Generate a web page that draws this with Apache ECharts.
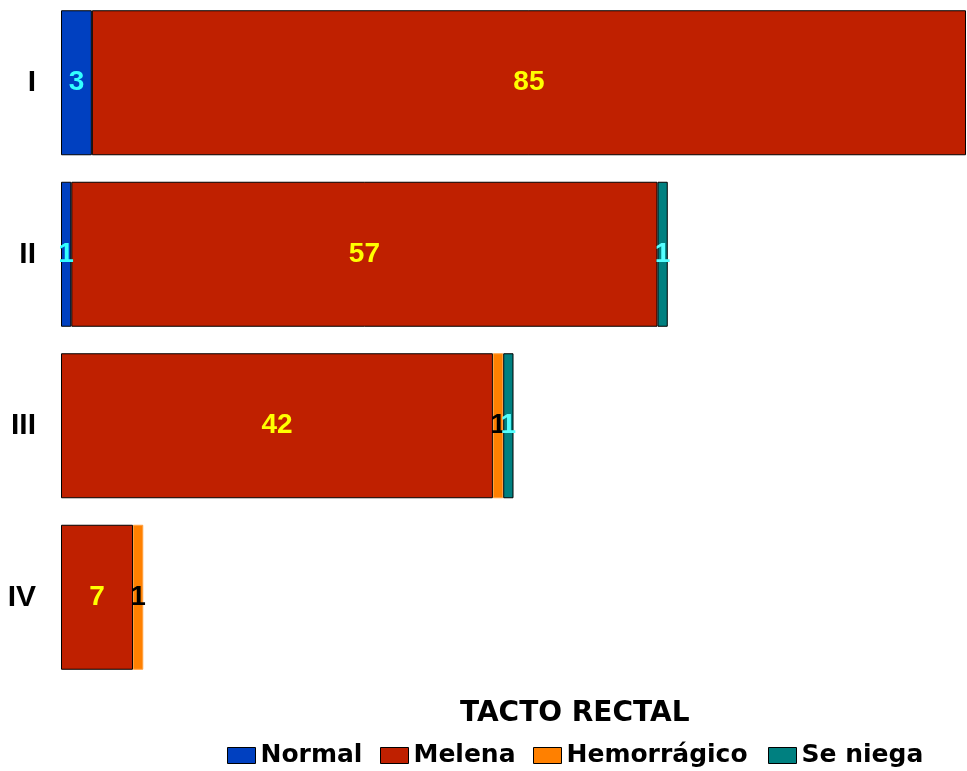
<!DOCTYPE html>
<html>
<head>
<meta charset="utf-8">
<script src="https://cdn.jsdelivr.net/npm/echarts@6/dist/echarts.min.js"></script>
<style>
  html, body { margin: 0; padding: 0; background: #fff; overflow: hidden; }
  /* the drawing area starts 3px above the page so the first bar sits near the top edge */
  #chart { position: relative; top: -3px; width: 967px; height: 774px; }
</style>
</head>
<body>
<div id="chart"></div>
<script>
// Estadios (categorías del eje vertical)
const estadios = ['I', 'II', 'III', 'IV'];

// Resultados del tacto rectal por estadio
const normal      = [3, 1, null, null];
const melena      = [85, 57, 42, 7];
const hemorragico = [null, null, 1, 1];
const seNiega     = [null, 1, 1, null];

const FONT = '"Liberation Sans", Arial, sans-serif';
const FONT_WIDE = '"DejaVu Sans", Verdana, sans-serif';

function serie(nombre, datos, color, colorEtiqueta, borde) {
  return {
    name: nombre,
    type: 'bar',
    stack: 'total',
    data: datos,
    barWidth: 145,
    itemStyle: { color: color, borderColor: borde, borderWidth: 1 },
    label: {
      show: true,
      position: 'inside',
      color: colorEtiqueta,
      fontFamily: FONT,
      fontWeight: 'bold',
      fontSize: 28,
      formatter: p => (p.value == null ? '' : String(p.value))
    }
  };
}

// Una leyenda por elemento para fijar la posición de cada uno
function leyenda(nombre, x) {
  return {
    left: x,
    top: 746,
    padding: 0,
    icon: 'rect',
    itemWidth: 28,
    itemHeight: 16,
    selectedMode: false,
    textStyle: { fontFamily: FONT_WIDE, fontWeight: 'bold', fontSize: 25, color: '#000' },
    itemStyle: { borderColor: '#000', borderWidth: 1 },
    data: [nombre]
  };
}

const chart = echarts.init(document.getElementById('chart'));
chart.setOption({
  animation: false,
  backgroundColor: '#ffffff',
  title: {
    text: 'TACTO RECTAL',
    left: 460,
    top: 703,
    padding: 0,
    textStyle: { fontFamily: FONT_WIDE, fontWeight: 'bold', fontSize: 28, color: '#000' }
  },
  legend: [
    leyenda('Normal', 227),
    leyenda('Melena', 380),
    leyenda('Hemorrágico', 533),
    leyenda('Se niega', 768)
  ],
  grid: { left: 61, width: 905, top: 0, height: 686, containLabel: false },
  xAxis: {
    type: 'value',
    min: 0,
    max: 88,
    show: false
  },
  yAxis: {
    type: 'category',
    data: estadios,
    inverse: true,
    axisLine: { show: false },
    axisTick: { show: false },
    axisLabel: {
      margin: 25,
      color: '#000',
      fontFamily: FONT,
      fontWeight: 'bold',
      fontSize: 30
    }
  },
  series: [
    serie('Normal', normal, '#0040C0', '#33FFFF', '#000'),
    serie('Melena', melena, '#BF2000', '#FFFF00', '#000'),
    serie('Hemorrágico', hemorragico, '#FF8000', '#000000', '#FFA040'),
    serie('Se niega', seNiega, '#008080', '#55FFFF', '#000')
  ]
});
</script>
</body>
</html>
